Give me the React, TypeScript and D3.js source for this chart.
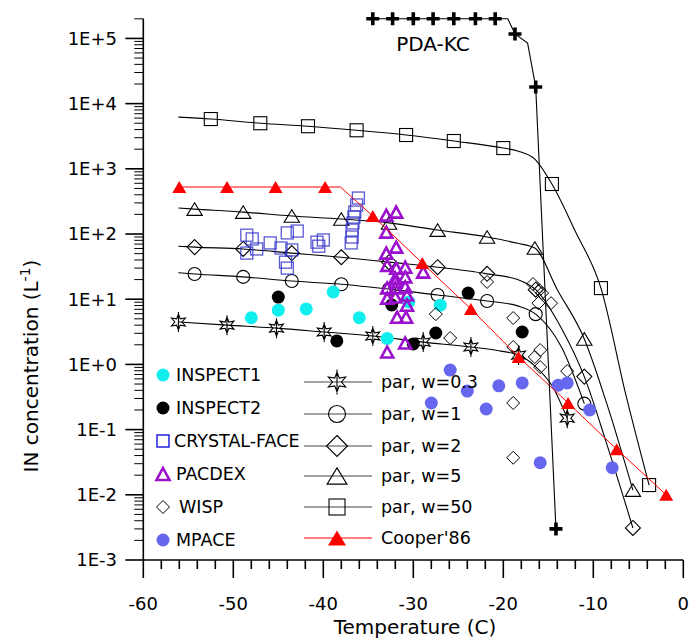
import * as d3 from "d3";

type Pt = [number, number];

// temperature (C), IN concentration (per litre)
const pdaKcLine: Pt[] = [[-34.5, 2e5], [-32.3, 2e5], [-30.0, 2e5], [-27.8, 2e5], [-25.5, 2e5], [-23.1, 2e5], [-20.9, 2e5], [-19.5, 2e5], [-18.7, 1.17e5], [-17.3, 8.5e4], [-16.4, 1.8e4], [-14.15, 3e-3]];
const pdaKcMarks: Pt[] = [[-34.5, 2e5], [-32.3, 2e5], [-30.0, 2e5], [-27.8, 2e5], [-25.5, 2e5], [-23.1, 2e5], [-20.9, 2e5], [-18.7, 1.17e5], [-16.4, 1.8e4], [-14.15, 3e-3]];

const parW03Line: Pt[] = [[-56.1, 4.47], [-50.7, 4.0], [-45.2, 3.6], [-39.9, 3.14], [-34.5, 2.73], [-28.9, 2.2], [-23.6, 1.85], [-20.5, 1.62], [-18.3, 1.39], [-16.5, 0.95], [-14.5, 0.45], [-12.9, 0.15]];
const parW03Marks: Pt[] = [[-56.1, 4.47], [-50.7, 4.0], [-45.2, 3.6], [-39.9, 3.14], [-34.5, 2.73], [-28.9, 2.2], [-23.6, 1.85], [-18.3, 1.39], [-12.9, 0.15]];

const parW1Line: Pt[] = [[-56.1, 25.5], [-54.3, 24.4], [-48.9, 22], [-43.5, 19], [-38, 17], [-32.7, 14.3], [-27.3, 11.6], [-21.8, 9.4], [-18.4, 7.9], [-16.4, 5.9], [-13.5, 1.8], [-11, 0.25]];
const parW1Marks: Pt[] = [[-54.3, 24.4], [-48.9, 22], [-43.5, 19], [-38, 17], [-32.7, 14.3], [-27.3, 11.6], [-21.8, 9.4], [-16.4, 5.9], [-11, 0.25]];

const parW2Line: Pt[] = [[-56.1, 65], [-54.3, 63], [-48.9, 59], [-43.5, 51], [-38, 44], [-32.7, 37], [-27.3, 31], [-21.8, 24.5], [-18.4, 20], [-16.4, 14], [-13.5, 3.5], [-11, 0.65], [-8.5, 0.06], [-5.6, 0.0031]];
const parW2Marks: Pt[] = [[-54.3, 63], [-48.9, 59], [-43.5, 51], [-38, 44], [-32.7, 37], [-27.3, 31], [-21.8, 24.5], [-16.4, 14], [-11, 0.65], [-5.6, 0.0031]];

const parW5Line: Pt[] = [[-56.1, 250], [-54.3, 241], [-48.9, 217], [-43.5, 189], [-38, 170], [-32.7, 148], [-27.3, 115], [-21.8, 90], [-18.4, 72], [-16.5, 61], [-14, 14], [-11, 2.46], [-8.5, 0.25], [-5.6, 0.0118]];
const parW5Marks: Pt[] = [[-54.3, 241], [-48.9, 217], [-43.5, 189], [-38, 170], [-32.7, 148], [-27.3, 115], [-21.8, 90], [-16.5, 61], [-11, 2.46], [-5.6, 0.0118]];

const parW50Line: Pt[] = [[-56.1, 6200], [-52.5, 5800], [-47, 5000], [-41.7, 4500], [-36.3, 3900], [-30.8, 3300], [-25.5, 2670], [-20, 2080], [-18.4, 1875], [-16.5, 1410], [-14.6, 585], [-12, 110], [-9.15, 14.8], [-6.4, 0.35], [-3.8, 0.0141]];
const parW50Marks: Pt[] = [[-52.5, 5800], [-47, 5000], [-41.7, 4500], [-36.3, 3900], [-30.8, 3300], [-25.5, 2670], [-20, 2080], [-14.6, 585], [-9.15, 14.8], [-3.8, 0.0141]];

const cooperLine: Pt[] = [[-56, 526], [-50.7, 526], [-45.3, 526], [-39.8, 526], [-38.1, 526], [-34.5, 189], [-29, 35.9], [-23.6, 7.1], [-18.3, 1.3], [-12.8, 0.257], [-7.4, 0.05], [-1.9, 0.01]];
const cooperMarks: Pt[] = [[-56, 526], [-50.7, 526], [-45.3, 526], [-39.8, 526], [-34.5, 189], [-29, 35.9], [-23.6, 7.1], [-18.3, 1.3], [-12.8, 0.257], [-7.4, 0.05], [-1.9, 0.01]];

const inspect1: Pt[] = [[-48.0, 5.2], [-45.0, 6.8], [-41.9, 7.1], [-38.9, 12.9], [-36.0, 5.2], [-32.9, 2.5], [-30.5, 9.1], [-27.0, 8.1]];
const inspect2: Pt[] = [[-45.0, 10.8], [-38.5, 2.29], [-32.4, 8.15], [-30.0, 2.06], [-27.5, 3.03], [-23.9, 12.4], [-17.9, 3.14]];
const crystalFace: Pt[] = [[-48.5, 96], [-47.9, 84], [-47.4, 59], [-48.5, 51], [-45.9, 73], [-44.7, 61], [-44.0, 104], [-42.9, 111], [-43.5, 57], [-44.0, 30], [-44.2, 37], [-40.7, 75], [-40.0, 81], [-40.5, 65], [-36.1, 356], [-36.3, 279], [-36.5, 217], [-36.6, 182], [-36.7, 148], [-36.8, 115], [-36.8, 90], [-36.9, 73]];
const pacdex: Pt[] = [[-33.0, 195], [-31.9, 217], [-33.0, 107], [-31.9, 63], [-33.0, 51], [-32.9, 33], [-31.9, 30], [-30.9, 31], [-32.0, 21], [-30.9, 22], [-32.9, 14.9], [-32.0, 14.9], [-30.9, 15.4], [-32.9, 10.4], [-30.7, 11.6], [-31.8, 5.3], [-30.8, 5.3], [-28.9, 26], [-30.7, 8.1], [-32.9, 1.55], [-30.9, 2.13], [-32.0, 18.4], [-32.0, 10.8]];
const wisp: Pt[] = [[-27.5, 5.9], [-25.9, 2.54], [-21.8, 18.4], [-18.9, 5.15], [-18.9, 1.85], [-18.9, 0.256], [-18.9, 0.037], [-16.5, 1.3], [-15.9, 1.66], [-15.9, 0.91], [-12.9, 0.79], [-16.1, 8.7], [-14.7, 8.7], [-16.7, 17.1], [-16.0, 13.8], [-15.7, 12.4]];
const mpace: Pt[] = [[-28.0, 0.256], [-25.9, 0.82], [-24.0, 0.39], [-21.9, 0.207], [-20.5, 0.47], [-17.9, 0.52], [-13.9, 0.48], [-12.9, 0.52], [-10.4, 0.2], [-15.9, 0.031], [-7.9, 0.026]];

const xTickVals = [-60, -50, -40, -30, -20, -10, 0];
const xTickLabels = ["-60", "-50", "-40", "-30", "-20", "-10", "0"];
const yTickExps = [-3, -2, -1, 0, 1, 2, 3, 4, 5];
const yTickLabels = ["1E-3", "1E-2", "1E-1", "1E+0", "1E+1", "1E+2", "1E+3", "1E+4", "1E+5"];

const leftLegend = ["INSPECT1", "INSPECT2", "CRYSTAL-FACE", "PACDEX", "WISP", "MPACE"];
const rightLegend = ["par, w=0.3", "par, w=1", "par, w=2", "par, w=5", "par, w=50", "Cooper'86"];

const FONT = "'DejaVu Sans', Verdana, sans-serif";
const CYAN = "#11eeee";
const BLUE = "#3030c8";
const PURPLE = "#9a10cc";
const MPACE = "#6666ee";
const RED = "#ff0000";

const x = d3.scaleLinear().domain([-60, 0]).range([143.3, 683.3]);
const y = d3.scaleLog().domain([1e-3, 2e5]).range([560, 18.8]);

const smooth = d3.line<Pt>().x(d => x(d[0])).y(d => y(d[1])).curve(d3.curveMonotoneX);
const straight = d3.line<Pt>().x(d => x(d[0])).y(d => y(d[1]));

const diamond = (h: number) => `M0,${-h}L${h},0L0,${h}L${-h},0Z`;
const triangle = (w: number, h: number) => `M0,${-h / 2}L${w / 2},${h / 2}L${-w / 2},${h / 2}Z`;
const star = (r: number) => {
  const pts: string[] = [];
  for (let i = 0; i < 12; i++) {
    const a = (i * Math.PI) / 6;
    const rr = i % 2 === 0 ? r : r * 0.45;
    pts.push(`${(rr * Math.sin(a)).toFixed(2)},${(-rr * Math.cos(a)).toFixed(2)}`);
  }
  return `M${pts.join("L")}Z M0,${-r * 1.25}V${r * 1.25}`;
};
const plus = (s: number) => `M${-s},0H${s}M0,${-s}V${s}`;

type Kind = "circle" | "square" | "diamond" | "triangle" | "star";

function Marker({ kind, cx, cy, size }: { kind: Kind; cx: number; cy: number; size: number }) {
  const common = { fill: "none", stroke: "#000", strokeWidth: 1.1 };
  if (kind === "circle") return <circle cx={cx} cy={cy} r={size} {...common} />;
  if (kind === "square") return <rect x={cx - size} y={cy - size} width={size * 2} height={size * 2} {...common} />;
  if (kind === "diamond") return <path transform={`translate(${cx},${cy})`} d={diamond(size)} {...common} />;
  if (kind === "triangle") return <path transform={`translate(${cx},${cy})`} d={triangle(size * 2.2, size * 1.8)} {...common} />;
  return <path transform={`translate(${cx},${cy})`} d={star(size)} {...common} />;
}

const parSeries: { line: Pt[]; marks: Pt[]; kind: Kind; size: number; legendSize: number }[] = [
  { line: parW03Line, marks: parW03Marks, kind: "star", size: 8, legendSize: 10 },
  { line: parW1Line, marks: parW1Marks, kind: "circle", size: 6.5, legendSize: 8.5 },
  { line: parW2Line, marks: parW2Marks, kind: "diamond", size: 7.5, legendSize: 10.5 },
  { line: parW5Line, marks: parW5Marks, kind: "triangle", size: 7, legendSize: 9 },
  { line: parW50Line, marks: parW50Marks, kind: "square", size: 6.5, legendSize: 8 },
];

export default function App() {
  const yMinor: number[] = [];
  for (let e = -3; e <= 5; e++) for (let m = 2; m <= 9; m++) if (m * 10 ** e <= 2e5) yMinor.push(m * 10 ** e);
  const xMinor = d3.range(-58, 0, 2).filter(v => v % 10 !== 0);
  const legendRowsL = [375, 408, 441, 474, 507, 540];
  const legendRowsR = [382, 414, 446, 476, 507, 538];

  return (
    <svg width={692} height={639} style={{ position: "absolute", left: 0, top: 0, background: "#fff" }} fontFamily={FONT}>
      <rect width={692} height={639} fill="#fff" />

      {/* axes */}
      <g stroke="#000" strokeWidth={1.6}>
        <line x1={x(-60)} x2={x(-60)} y1={y(2e5)} y2={560} />
        <line x1={x(-60)} x2={x(0)} y1={560} y2={560} />
        {yTickExps.map(e => (
          <line key={e} x1={x(-60) - 18} x2={x(-60)} y1={y(10 ** e)} y2={y(10 ** e)} />
        ))}
        {yMinor.map(v => (
          <line key={v} x1={x(-60) - 9} x2={x(-60)} y1={y(v)} y2={y(v)} strokeWidth={1} />
        ))}
        {xTickVals.map(v => (
          <line key={v} x1={x(v)} x2={x(v)} y1={560} y2={578} />
        ))}
        {xMinor.map(v => (
          <line key={v} x1={x(v)} x2={x(v)} y1={560} y2={569} />
        ))}
      </g>
      <g fontSize={18} fill="#000">
        {yTickExps.map((e, i) => (
          <text key={e} x={117} y={y(10 ** e)} dy="0.36em" textAnchor="end">{yTickLabels[i]}</text>
        ))}
        {xTickVals.map((v, i) => (
          <text key={v} x={x(v)} y={610} textAnchor="middle">{xTickLabels[i]}</text>
        ))}
      </g>
      <text x={415} y={634} fontSize={20} textAnchor="middle">Temperature (C)</text>
      <text transform="translate(38,366) rotate(-90)" fontSize={20} textAnchor="middle">
        IN concentration (L<tspan dy={-8} fontSize={14}>-1</tspan><tspan dy={8}>)</tspan>
      </text>

      {/* parameterisation curves */}
      {parSeries.map((s, i) => (
        <g key={i}>
          <path d={smooth(s.line) ?? ""} fill="none" stroke="#000" strokeWidth={1.1} />
          {s.marks.map((d, j) => (
            <Marker key={j} kind={s.kind} cx={x(d[0])} cy={y(d[1])} size={s.size} />
          ))}
        </g>
      ))}

      {/* observations */}
      {inspect1.map((d, i) => <circle key={"a" + i} cx={x(d[0])} cy={y(d[1])} r={6.5} fill={CYAN} />)}
      {inspect2.map((d, i) => <circle key={"b" + i} cx={x(d[0])} cy={y(d[1])} r={6.5} fill="#000" />)}
      {crystalFace.map((d, i) => (
        <rect key={"c" + i} x={x(d[0]) - 6} y={y(d[1]) - 6} width={12} height={12} fill="none" stroke={BLUE} strokeOpacity={0.8} strokeWidth={1.3} />
      ))}
      {pacdex.map((d, i) => (
        <path key={"d" + i} transform={`translate(${x(d[0])},${y(d[1])})`} d={triangle(12, 11)} fill="none" stroke={PURPLE} strokeWidth={2.6} strokeLinejoin="miter" />
      ))}
      {wisp.map((d, i) => (
        <path key={"e" + i} transform={`translate(${x(d[0])},${y(d[1])})`} d={diamond(6.5)} fill="none" stroke="#000" strokeWidth={1} />
      ))}
      {mpace.map((d, i) => <circle key={"f" + i} cx={x(d[0])} cy={y(d[1])} r={6.5} fill={MPACE} />)}

      {/* Cooper'86 */}
      <path d={straight(cooperLine) ?? ""} fill="none" stroke={RED} strokeWidth={1} />
      {cooperMarks.map((d, i) => (
        <path key={i} transform={`translate(${x(d[0])},${y(d[1])})`} d={triangle(14, 12)} fill={RED} />
      ))}

      {/* PDA-KC */}
      <path d={straight(pdaKcLine) ?? ""} fill="none" stroke="#000" strokeWidth={1.1} />
      {pdaKcMarks.map((d, i) => (
        <path key={i} transform={`translate(${x(d[0])},${y(d[1])})`} d={plus(6.5)} stroke="#000" strokeWidth={3.6} />
      ))}
      <text x={433} y={51} fontSize={20} textAnchor="middle">PDA-KC</text>

      {/* left legend */}
      <g fontSize={17.5}>
        {leftLegend.map((name, i) => {
          const cy = legendRowsL[i];
          const mx = 163;
          let mark;
          if (i === 0) mark = <circle cx={mx} cy={cy} r={6.5} fill={CYAN} />;
          else if (i === 1) mark = <circle cx={mx} cy={cy} r={6.5} fill="#000" />;
          else if (i === 2) mark = <rect x={mx - 6} y={cy - 6} width={12} height={12} fill="none" stroke="#2222dd" strokeWidth={1.5} />;
          else if (i === 3) mark = <path transform={`translate(${mx},${cy})`} d={triangle(13, 12)} fill="none" stroke={PURPLE} strokeWidth={2.6} />;
          else if (i === 4) mark = <path transform={`translate(${mx},${cy})`} d={diamond(6.5)} fill="none" stroke="#000" strokeWidth={1} />;
          else mark = <circle cx={mx} cy={cy} r={6.5} fill={MPACE} />;
          return (
            <g key={name}>
              {mark}
              <text x={i === 2 ? 174 : i === 4 ? 179 : 176} y={cy} dy="0.36em">{name}</text>
            </g>
          );
        })}
      </g>

      {/* right legend */}
      <g fontSize={17.5}>
        {rightLegend.map((name, i) => {
          const cy = legendRowsR[i];
          const isCooper = i === 5;
          return (
            <g key={name}>
              <line x1={304} x2={372} y1={cy} y2={cy} stroke={isCooper ? RED : "#444"} strokeWidth={1.1} />
              {isCooper ? (
                <path transform={`translate(337,${cy})`} d={triangle(18, 15)} fill={RED} />
              ) : (
                <Marker kind={parSeries[i].kind} cx={337} cy={cy} size={parSeries[i].legendSize} />
              )}
              <text x={381} y={cy} dy="0.36em">{name}</text>
            </g>
          );
        })}
      </g>
    </svg>
  );
}
